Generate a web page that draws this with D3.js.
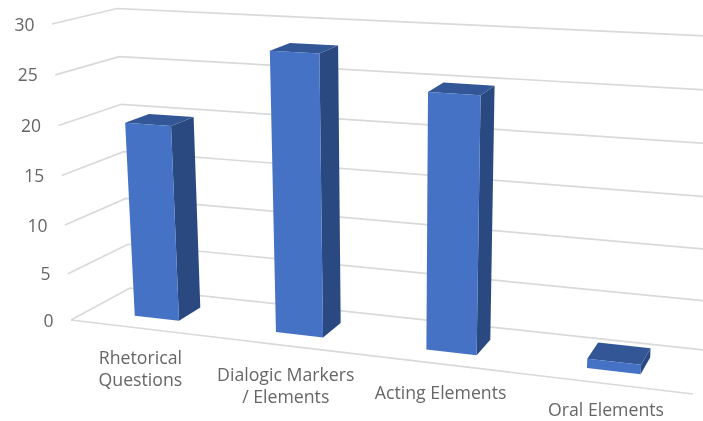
<!DOCTYPE html>
<html><head><meta charset="utf-8">
<script src="https://cdnjs.cloudflare.com/ajax/libs/d3/7.8.5/d3.min.js"></script>
<style>html,body{margin:0;padding:0;background:#fff}svg{display:block}text{font-family:"Open Sans","Noto Sans",sans-serif;fill:#666}</style>
</head><body><svg id="c" width="703" height="421"></svg>
<script>
const categories = [["Rhetorical","Questions"],["Dialogic Markers","/ Elements"],["Acting Elements"],["Oral Elements"]];
const values = [20, 28, 25, 1];
const ticks = [0,5,10,15,20,25,30];

const vNorm = d3.scalePow().exponent(1.035).domain([0,30]).range([0,1]);
const cNorm = c => c/(1+0.138*(1-c));
const corners = {
  fl:[[71,320],[52,24]], bl:[[130,288],[117,8.5]],
  fr:[[693,394],[711,61]], br:[[713,351],[729,37]]
};
function P(c,v,d){
  const t=vNorm(v), u=cNorm(c);
  const at=(k,i)=>d3.scaleLinear().domain([0,1]).range([corners[k][0][i],corners[k][1][i]])(t);
  const f=i=>{
    const front=d3.interpolateNumber(at('fl',i),at('fr',i))(u);
    const back=d3.interpolateNumber(at('bl',i),at('br',i))(u);
    return d3.interpolateNumber(front,back)(d);
  };
  return [f(0),f(1)];
}
const svg=d3.select('#c');
const defs=svg.append('defs');
defs.append('filter').attr('id','soft').append('feGaussianBlur').attr('stdDeviation',0.55);
const root=svg.append('g').attr('filter','url(#soft)');
const line=d3.line();

const grid=root.append('g').attr('fill','none').attr('stroke','#d9d9d9').attr('stroke-width',1.7);
grid.selectAll('path').data(ticks).join('path')
  .attr('d',v=>line([P(0,v,0),P(0,v,1),P(1,v,1)]));
grid.append('path').attr('d',line([P(0,0,0),P(1,0,0)]));

const pos=d3.scaleBand().domain(d3.range(categories.length)).range([0,1]);
const half=0.04, d0=0.3, d1=0.7;
const poly=pts=>line(pts)+'Z';
const bars=root.append('g').selectAll('g').data(values).join('g');
bars.each(function(val,i){
  const g=d3.select(this), c=pos(i)+pos.bandwidth()/2, a=c-half, b=c+half;
  g.append('path').attr('fill','#2a4a80').attr('d',poly([P(b,0,d0),P(b,val,d0),P(b,val,d1),P(b,0,d1)]));
  g.append('path').attr('fill','#325796').attr('d',poly([P(a,val,d0),P(b,val,d0),P(b,val,d1),P(a,val,d1)]));
  g.append('path').attr('fill','#4472c4').attr('d',poly([P(a,0,d0),P(b,0,d0),P(b,val,d0),P(a,val,d0)]));
});

root.append('g').selectAll('text').data(ticks).join('text')
  .attr('text-anchor','end').attr('font-size',17.5)
  .attr('x',v=>P(0,v,0)[0]-17.5).attr('y',v=>P(0,v,0)[1]+6.5).text(v=>v);

const labs=root.append('g').selectAll('text').data(categories).join('text')
  .attr('text-anchor','middle').attr('font-size',17.7)
  .attr('transform',(d,i)=>{const p=P(pos(i)+pos.bandwidth()/2,0,0);return `translate(${p[0]},${Math.min(p[1]+35.5,415.5)})`;});
labs.selectAll('tspan').data(d=>d).join('tspan').attr('x',0).attr('y',(d,i)=>i*22).text(d=>d);
</script></body></html>
